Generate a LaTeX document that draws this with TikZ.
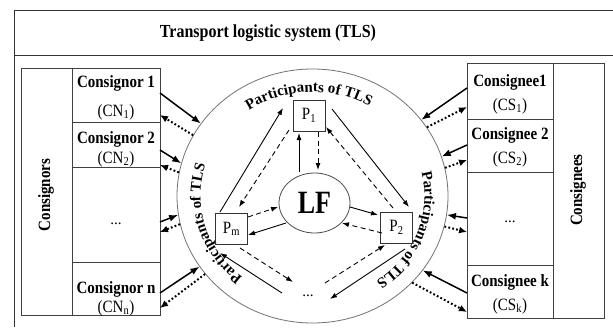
\documentclass[tikz,border=0pt]{standalone}
\usepackage{fontspec}
\usepackage{graphicx}
\setmainfont{Liberation Serif}
\usetikzlibrary{arrows.meta,calc,decorations.text,shapes.geometric}
\newcommand\myarcfont{\bfseries\fontsize{15}{15}\selectfont}
\newcommand\vst[1]{\scalebox{1}[1.15]{#1}}
\begin{document}
\begin{tikzpicture}[x=1pt,y=-1pt,
  frame/.style={draw=black!80, line width=0.9pt},
  cell/.style={draw=black!75, line width=0.8pt, rectangle, inner sep=0pt, outer sep=0pt},
  lbl/.style={font=\bfseries\fontsize{15}{18}\selectfont, inner sep=0pt},
  sublbl/.style={font=\fontsize{15}{18}\selectfont, inner sep=0pt},
  pbox/.style={draw=black!80, line width=0.8pt, rectangle, minimum width=32pt, minimum height=31pt, inner sep=0pt, font=\fontsize{15}{18}\selectfont},
  solidarr/.style={line width=1.5pt, -{Latex[length=9pt,width=7pt]}},
  dotarr/.style={line width=2pt, dash pattern=on 1.8pt off 2.2pt, -{Latex[length=8pt,width=7pt]}},
  inarr/.style={line width=0.9pt, -{Latex[length=7pt,width=5pt]}},
  indash/.style={inarr, dash pattern=on 5pt off 3.5pt},
]
\useasboundingbox (0,0) rectangle (613,327);
\fill[white] (0,0) rectangle (613,327);
% frame
\draw[frame] (613,10) -- (14,10) -- (14,327);
\draw[frame] (14,55) -- (613,55);
\node[font=\bfseries\fontsize{16}{16}\selectfont] (title) at (268,33) {\vst{Transport logistic system (TLS)}};

% consignors
\node[cell, minimum width=51pt, minimum height=247pt] (cnall) at (46.5,191.5) {};
\node[lbl, rotate=90] (cnlab) at (46,195) {\vst{Consignors}};
\node[cell, minimum width=88pt, minimum height=54pt] (cn1) at (116,95) {};
\node[cell, minimum width=88pt, minimum height=45pt] (cn2) at (116,144.5) {};
\node[cell, minimum width=88pt, minimum height=95pt] (cn3) at (116,214.5) {};
\node[cell, minimum width=88pt, minimum height=53pt] (cn4) at (116,288.5) {};
\node[lbl] (cn1a) at (116,83) {\vst{Consignor 1}};
\node[sublbl] (cn1b) at (116,112) {\vst{(CN\textsubscript{1})}};
\node[lbl] (cn2a) at (116,139) {\vst{Consignor 2}};
\node[sublbl] (cn2b) at (116,159) {\vst{(CN\textsubscript{2})}};
\node[sublbl] (cn3a) at (116,224) {...};
\node[lbl] (cn4a) at (116,289) {\vst{Consignor n}};
\node[sublbl] (cn4b) at (116,308) {\vst{(CN\textsubscript{n})}};

% consignees
\node[cell, minimum width=51pt, minimum height=255pt] (csall) at (578.5,190.5) {};
\node[lbl, rotate=90] (cslab) at (578,190) {\vst{Consignees}};
\node[cell, minimum width=86pt, minimum height=56pt] (cs1) at (510,91) {};
\node[cell, minimum width=86pt, minimum height=53pt] (cs2) at (510,145.5) {};
\node[cell, minimum width=86pt, minimum height=93pt] (cs3) at (510,218.5) {};
\node[cell, minimum width=86pt, minimum height=53pt] (cs4) at (510,291.5) {};
\node[lbl] (cs1a) at (510,82) {\vst{Consignee1}};
\node[sublbl] (cs1b) at (510,106) {\vst{(CS\textsubscript{1})}};
\node[lbl] (cs2a) at (510,135) {\vst{Consignee 2}};
\node[sublbl] (cs2b) at (510,159) {\vst{(CS\textsubscript{2})}};
\node[sublbl] (cs3a) at (510,222) {...};
\node[lbl] (cs4a) at (510,282) {\vst{Consignee k}};
\node[sublbl] (cs4b) at (510,306) {\vst{(CS\textsubscript{k})}};

% big ellipse
\node[draw=black!55, line width=0.8pt, ellipse, minimum width=271pt, minimum height=254pt, inner sep=0pt] (tls) at (312.5,196) {};

% arc texts
\begin{scope}[shift={(312.5,196)}, y=1pt]
\path[decorate, decoration={text along path, text align=center, text={|\myarcfont|Participants of TLS}}]
  (129:112pt and 104pt) arc[start angle=129, end angle=55, x radius=112pt, y radius=104pt];
\path[decorate, decoration={text along path, text align=center, text={|\myarcfont|Participants of TLS}}]
  (234:112pt and 104pt) arc[start angle=234, end angle=160, x radius=112pt, y radius=104pt];
\path[decorate, decoration={text along path, text align=center, text={|\myarcfont|Participants of TLS}}]
  (376:112pt and 104pt) arc[start angle=376, end angle=302, x radius=112pt, y radius=104pt];
\end{scope}

% inner nodes
\node[pbox] (p1) at (309,115.5) {\vst{P\textsubscript{1}}};
\node[pbox] (pm) at (231.5,229) {\vst{P\textsubscript{m}}};
\node[pbox] (p2) at (396.5,227.5) {\vst{P\textsubscript{2}}};
\node[draw=black!70, line width=0.8pt, ellipse, minimum width=71pt, minimum height=60pt, inner sep=0pt, font=\bfseries\fontsize{26}{26}\selectfont] (lf) at (314.5,203) {\scalebox{1}[1.25]{LF}};
\node[sublbl] (dots) at (308,296) {...};

% inner arrows
\draw[inarr] ($(pm)+(-11.5,-17)$) -- ($(p1)+(-26,-7.5)$);
\draw[indash] ($(p1)+(-20,14.5)$) -- ($(pm)+(7.5,-22)$);
\draw[inarr] ($(p1)+(23,-6.5)$) -- ($(p2)+(12.5,-20.5)$);
\draw[indash] ($(p2)+(-3.5,-19.5)$) -- ($(p1)+(17,11.5)$);
\draw[inarr] ($(lf)+(-15.5,-31)$) -- ($(p1)+(-10,17.5)$);
\draw[indash] ($(p1)+(9,16.5)$) -- ($(lf)+(3.5,-33)$);
\draw[indash] ($(pm)+(16.5,-12)$) -- ($(lf)+(-36.5,4)$);
\draw[inarr] ($(lf)+(-28.5,20)$) -- ($(pm)+(16.5,6)$);
\draw[inarr] ($(lf)+(35.5,4)$) -- ($(p2)+(-18.5,-12.5)$);
\draw[indash] ($(p2)+(-14.5,5.5)$) -- ($(lf)+(27.5,20)$);
\draw[inarr] ($(p2)+(8.5,21.5)$) -- ($(dots)+(22,3)$);
\draw[indash] ($(dots)+(17,-13)$) -- ($(p2)+(-11.5,17.5)$);
\draw[indash] ($(pm)+(8.5,19)$) -- ($(dots)+(-15,-14)$);
\draw[inarr] ($(dots)+(-26,-3)$) -- ($(pm)+(-11.5,24)$);

% outer arrows left
\draw[solidarr] (cn1.east |- 0,93) -- (tls.147);
\draw[dotarr] (tls.153) -- (cn1.east |- 0,115);
\draw[solidarr] (cn2.east |- 0,150) -- (tls.166);
\draw[dotarr] (tls.170) -- (cn2.east |- 0,165);
\draw[solidarr] (cn3.east |- 0,222) -- (tls.188);
\draw[dotarr] (tls.192) -- (cn3.east |- 0,232);
\draw[solidarr] (cn4.east |- 0,293) -- (tls.212);
\draw[dotarr] (tls.216) -- (cn4.east |- 0,308);
% outer arrows right
\draw[solidarr] (cs1.west |- 0,88) -- (tls.35);
\draw[dotarr] (tls.31) -- (cs1.west |- 0,107);
\draw[solidarr] (cs2.west |- 0,145) -- (tls.17);
\draw[dotarr] (tls.12) -- (cs2.west |- 0,160);
\draw[solidarr] (cs3.west |- 0,218) -- (tls.352);
\draw[dotarr] (tls.347) -- (cs3.west |- 0,232);
\draw[solidarr] (cs4.west |- 0,293) -- (tls.326);
\draw[dotarr] (tls.319) -- (cs4.west |- 0,312);
\end{tikzpicture}
\end{document}
